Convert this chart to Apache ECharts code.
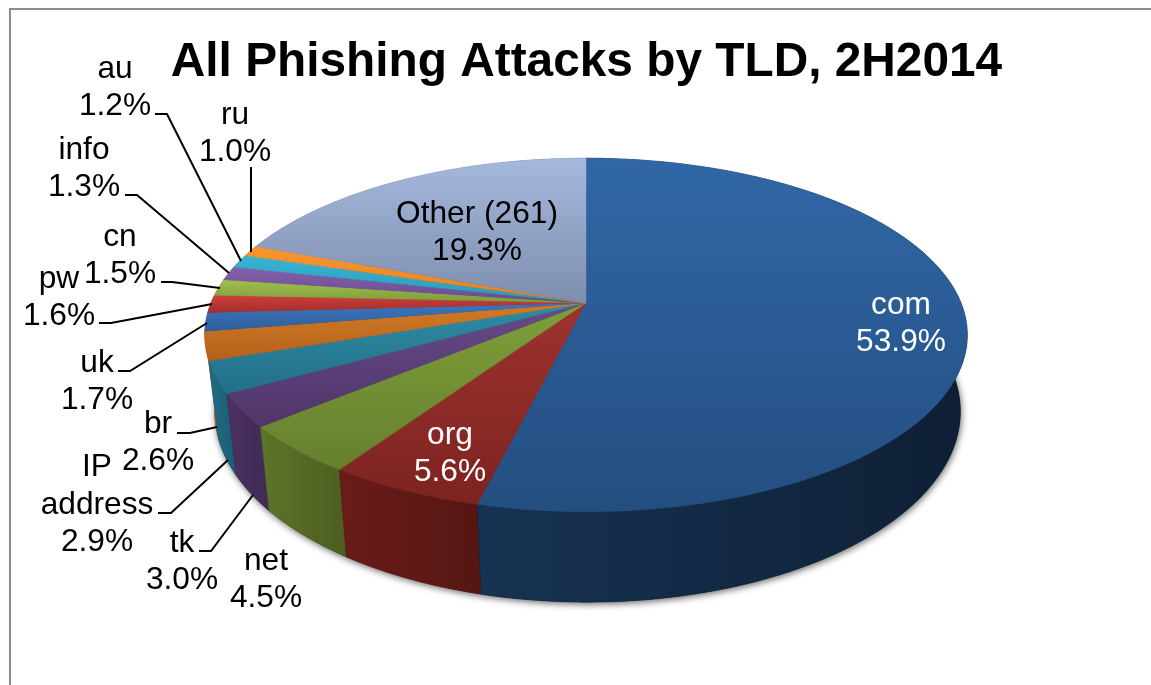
<!DOCTYPE html>
<html>
<head>
<meta charset="utf-8">
<style>html,body{margin:0;padding:0;background:#fff}#c{width:1151px;height:685px}</style>
<script src="https://cdn.jsdelivr.net/npm/echarts@6/dist/echarts.min.js"></script>
</head>
<body>
<div id="c"></div>
<script>
const titleText = 'All Phishing Attacks by TLD, 2H2014';
const categories = ['com','org','net','tk','IP\naddress','br','uk','pw','cn','info','au','ru','Other (261)'];
const shares = [53.9,5.6,4.5,3.0,2.9,2.6,1.7,1.6,1.5,1.3,1.2,1.0,19.3];

const topColors = [['#3167a7','#234e80'],['#9e322e','#7c2320'],['#7f9f3a','#667f2e'],['#664b88','#4f3568'],['#2f8ba5','#236f88'],
  ['#d27c27','#b5601b'],['#3c76bf','#2e5e97'],['#d03e3a','#a12e2c'],['#9fc24c','#7e9a3b'],['#8361ac','#6b4a8f'],
  ['#38b4d3','#2b9ab7'],['#f9962b','#e48224'],['#a5b9dd','#7e8eae']];
const wallColors = [['#173353','#0e1f35'],['#6a1c18','#561612'],['#5d7429','#4c5e21'],['#4c3160','#3f2a56'],['#1f6d86','#1b5d74'],
  ['#b5661e','#a85c1a'],['#2c5a92','#264f80'],['#92302c','#822a27'],['#6f8a34','#637a2e'],['#5f4580','#553c72'],
  ['#258aa3','#1f7a91'],['#b86c20','#a9621c'],['#6f7d99','#657290']];

// label layout: centre of text block, text colour
const labelPlaces = [[901,324,'#fff'],[450,454,'#fff'],[266,580,'#000'],[182,562,'#000'],[97,505,'#000'],[158,443,'#000'],
  [97,382,'#000'],[59,298,'#000'],[120,256,'#000'],[84,169,'#000'],[115,88,'#000'],[235,134,'#000'],[477,233,'#000']];
const leaderLines = [
  [[155,114],[167,114],[241,261]],
  [[251,167],[251,252]],
  [[125,195],[137,195],[229,273]],
  [[161,282],[172,282],[220,288]],
  [[99,323],[111,323],[212,304]],
  [[118,371],[130,371],[207,323]],
  [[177,433],[190,433],[217,427]],
  [[158,513],[171,513],[228,460]],
  [[199,551],[211,551],[253,495]]
];

// perspective view of the pie disc
const view = {cx:586, cy:303, rx:375, ry:171, k:0.181, depth:74, bottomScale:0.978, bottomDx:1.5};
const total = shares.reduce((a,b)=>a+b,0);
function project(deg, lower){
  const a = deg*Math.PI/180, u = Math.sin(a), v = -Math.cos(a), w = 1 - view.k*v;
  if(!lower) return [view.cx + view.rx*u/w, view.cy + view.ry*v/w];
  return [view.cx + view.bottomDx + view.bottomScale*view.rx*u/w, view.cy + (view.ry*v + view.depth)/w];
}
function angles(i){
  let s = 0; for(let j=0;j<i;j++) s += shares[j];
  return [s/total*360, (s+shares[i])/total*360];
}
function arc(a0,a1,lower){
  const n = Math.max(2, Math.ceil((a1-a0)*1.5)), p = [];
  for(let t=0;t<=n;t++) p.push(project(a0+(a1-a0)*t/n, lower));
  return p;
}
const G = echarts.graphic;
const seriesData = categories.map((c,i)=>({name:c.replace('\n',' '), value:shares[i]}));

const option = {
  animation:false,
  backgroundColor:'#fff',
  title:{text:titleText, left:581.5, top:34, textAlign:'center',
    textStyle:{fontFamily:'Liberation Sans', fontWeight:'bold', fontSize:47.8, color:'#000'}},
  series:[
    {type:'custom', coordinateSystem:'none', silent:true, z:1, data:[{name:'base',value:total}],
     renderItem(){
       return {type:'polygon', shape:{points:arc(0,360,true)},
         style:{fill:'#333', shadowBlur:7, shadowColor:'rgba(0,0,0,0.6)', shadowOffsetX:1, shadowOffsetY:2}};
     }},
    {type:'custom', coordinateSystem:'none', silent:true, z:2, data:seriesData,
     renderItem(p){
       const i = p.dataIndex, [a0,a1] = angles(i);
       const pts = arc(a0,a1,false).concat(arc(a0,a1,true).reverse());
       const col = wallColors[i];
       return {type:'polygon', z2:100-i, shape:{points:pts},
         style:{fill:new G.LinearGradient(0,0,1,0,[{offset:0,color:col[0]},{offset:1,color:col[1]}]), stroke:col[1], lineWidth:0.5}};
     }},
    {type:'custom', coordinateSystem:'none', silent:true, z:3, data:seriesData,
     renderItem(p){
       const i = p.dataIndex, [a0,a1] = angles(i);
       const pts = [[view.cx,view.cy]].concat(arc(a0,a1,false));
       const col = topColors[i];
       const grad = ()=>new G.LinearGradient(0,0,0,1,[{offset:0,color:col[0]},{offset:1,color:col[1]}]);
       return {type:'polygon', shape:{points:pts}, style:{fill:grad(), stroke:grad(), lineWidth:0.4}};
     }}
  ],
  graphic:{elements:[
    {type:'polyline', z:10, silent:true, shape:{points:[[10,686],[10,9],[1152,9]]}, style:{stroke:'#8c8c8c', lineWidth:2, fill:null}},
    ...leaderLines.map(l=>({type:'polyline', z:10, silent:true, shape:{points:l}, style:{stroke:'#000', lineWidth:2, fill:null}})),
    ...categories.map((c,i)=>({type:'text', z:11, silent:true, x:labelPlaces[i][0], y:labelPlaces[i][1],
      style:{text:c+'\n'+shares[i].toFixed(1)+'%', fontFamily:'Liberation Sans', fontSize:31.7, lineHeight:37.5,
        fill:labelPlaces[i][2], align:'center', verticalAlign:'middle'}}))
  ]}
};
echarts.init(document.getElementById('c'),null,{renderer:'canvas'}).setOption(option);
</script>
</body>
</html>
